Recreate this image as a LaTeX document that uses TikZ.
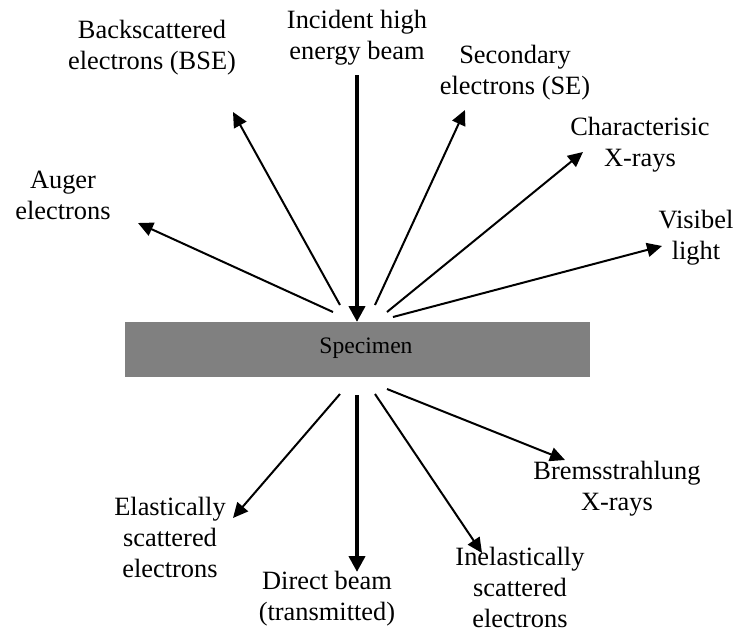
\documentclass[tikz,border=0pt]{standalone}
\usepackage{fontspec}
\setmainfont{Liberation Serif}
\usetikzlibrary{arrows.meta}

\begin{document}
\begin{tikzpicture}[x=0.5pt,y=-0.5pt,
  ray/.style={line width=1pt,-{Triangle[length=7.5pt,width=7pt]}},
  beam/.style={line width=2pt,-{Triangle[length=8pt,width=8pt]}},
  lbl/.style={align=center,inner sep=0pt,font=\fontsize{13.2}{15.5}\selectfont}]
\useasboundingbox (0,0) rectangle (736,632);

% Specimen
\node[fill=gray,minimum width=232.5pt,minimum height=27.5pt,inner sep=0pt] (spec) at (357.5,349.5) {};
\node[inner sep=0pt,font=\fontsize{11.8}{13}\selectfont] (spectxt) at (366,348) {Specimen};

% Ray end points
\coordinate (beamin) at (357,75);
\coordinate (beamhit) at (357,322);
\coordinate (augs) at (333,312);   \coordinate (auge) at (138,223);
\coordinate (bses) at (340,305);   \coordinate (bsee) at (233,112);
\coordinate (ses) at (375,305);    \coordinate (see) at (465,110);
\coordinate (xrs) at (387,312);    \coordinate (xre) at (583,152);
\coordinate (viss) at (393,317);   \coordinate (vise) at (662,246);
\coordinate (els) at (340,394);    \coordinate (ele) at (233,518);
\coordinate (dirs) at (357,395);   \coordinate (dire) at (357,572);
\coordinate (inels) at (375,394);  \coordinate (inele) at (482,553);
\coordinate (brs) at (387,389);    \coordinate (bre) at (565,460);

% Arrows
\draw[beam] (beamin) -- (beamhit);
\draw[ray] (augs) -- (auge);
\draw[ray] (bses) -- (bsee);
\draw[ray] (ses) -- (see);
\draw[ray] (xrs) -- (xre);
\draw[ray] (viss) -- (vise);
\draw[ray] (els) -- (ele);
\draw[beam] (dirs) -- (dire);
\draw[ray] (inels) -- (inele);
\draw[ray] (brs) -- (bre);

% Labels
\node[lbl] (incident) at (357,38) {Incident high\\energy beam};
\node[lbl] (bse) at (152,48) {Backscattered\\electrons (BSE)};
\node[lbl] (se) at (515,73) {Secondary\\electrons (SE)};
\node[lbl] (charx) at (640,145) {Characterisic\\X-rays};
\node[lbl] (visible) at (696,238) {Visibel\\light};
\node[lbl] (auger) at (63,195) {Auger\\electrons};
\node[lbl] (elastic) at (170,537) {Elastically\\scattered\\electrons};
\node[lbl] (direct) at (327,599) {Direct beam\\(transmitted)};
\node[lbl] (inelastic) at (520,587) {Inelastically\\scattered\\electrons};
\node[lbl] (brems) at (617,489) {Bremsstrahlung\\X-rays};
\end{tikzpicture}
\end{document}
